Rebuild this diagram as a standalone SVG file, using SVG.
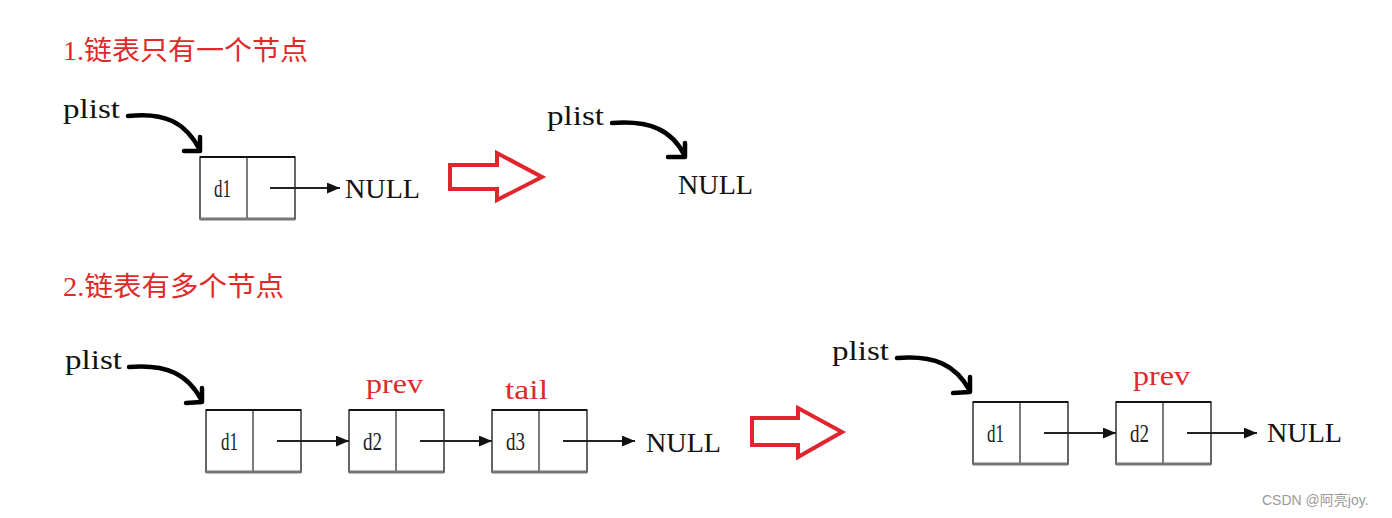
<svg xmlns="http://www.w3.org/2000/svg" width="1392" height="518" viewBox="0 0 1392 518">
<style>
.title{font-family:"Liberation Serif","Noto Sans CJK SC",serif;font-size:27px;fill:#e02a2a}
.lbl{font-family:"Liberation Serif",serif;font-size:28px;fill:#111}
.red{font-family:"Liberation Serif",serif;font-size:27px;fill:#e02a2a}
.d{font-family:"Liberation Serif",serif;font-size:25px;fill:#222}
.box{fill:#fff;stroke:#333;stroke-width:1.5}
.sh{stroke:#777;stroke-width:3;fill:none}
.curve{fill:none;stroke:#000;stroke-width:4.5;stroke-linecap:round;stroke-linejoin:round}
.link{stroke:#222;stroke-width:1.8;fill:none}
.big{fill:#fff;stroke:#e0262c;stroke-width:4;stroke-linejoin:miter}
</style>
<defs>
<marker id="ah" viewBox="0 0 12 10" refX="12" refY="5" markerWidth="13" markerHeight="11" markerUnits="userSpaceOnUse" orient="auto">
<path d="M0,0 L12,5 L0,10 z" fill="#111"/>
</marker>
<g id="nodebox">
<rect class="box" x="0" y="0" width="95" height="62"/>
<line x1="47" y1="0" x2="47" y2="62" stroke="#222" stroke-width="1.2"/>
<line class="sh" x1="0" y1="62" x2="95" y2="62"/>
<line x1="95" y1="0" x2="95" y2="62" stroke="#666" stroke-width="2"/>
<line x1="0" y1="0" x2="95" y2="0" stroke="#111" stroke-width="2"/>
</g>
</defs>
<rect width="1392" height="518" fill="#fff"/>

<text class="title" x="63" y="60" textLength="245" lengthAdjust="spacingAndGlyphs">1.链表只有一个节点</text>
<text class="title" x="63" y="296" textLength="221" lengthAdjust="spacingAndGlyphs">2.链表有多个节点</text>

<g id="s1-plist"><text class="lbl" x="63" y="118" textLength="57" lengthAdjust="spacingAndGlyphs">plist</text></g>
<g id="s1-node1"><use href="#nodebox" x="200" y="157"/><text class="d" x="214" y="197" textLength="17" lengthAdjust="spacingAndGlyphs">d1</text></g>
<g id="s1-null"><text class="lbl" x="345" y="198" textLength="75" lengthAdjust="spacingAndGlyphs">NULL</text></g>
<g id="s1-arrow"><path class="big" d="M450,165 L497,165 L497,153 L542,177 L497,200 L497,189 L450,189 Z"/></g>
<g id="s1-plist2"><text class="lbl" x="547" y="125" textLength="57" lengthAdjust="spacingAndGlyphs">plist</text></g>
<g id="s1-null2"><text class="lbl" x="678" y="194" textLength="75" lengthAdjust="spacingAndGlyphs">NULL</text></g>

<g id="s2-plist"><text class="lbl" x="65" y="369" textLength="57" lengthAdjust="spacingAndGlyphs">plist</text></g>
<g id="s2-node1"><use href="#nodebox" x="206" y="410"/><text class="d" x="221" y="450" textLength="17" lengthAdjust="spacingAndGlyphs">d1</text></g>
<g id="s2-node2"><use href="#nodebox" x="349" y="410"/><text class="d" x="363" y="450" textLength="19" lengthAdjust="spacingAndGlyphs">d2</text></g>
<g id="s2-node3"><use href="#nodebox" x="492" y="410"/><text class="d" x="506" y="450" textLength="19" lengthAdjust="spacingAndGlyphs">d3</text></g>
<g id="s2-prev"><text class="red" x="366" y="393" textLength="57" lengthAdjust="spacingAndGlyphs">prev</text></g>
<g id="s2-tail"><text class="red" x="505" y="399" textLength="43" lengthAdjust="spacingAndGlyphs">tail</text></g>
<g id="s2-null"><text class="lbl" x="646" y="452" textLength="75" lengthAdjust="spacingAndGlyphs">NULL</text></g>
<g id="s2-arrow"><path class="big" d="M752,418 L798,418 L798,408 L842,432 L798,457 L798,445 L752,445 Z"/></g>
<g id="s2-plist2"><text class="lbl" x="832" y="360" textLength="57" lengthAdjust="spacingAndGlyphs">plist</text></g>
<g id="s2-node1b"><use href="#nodebox" x="973" y="402"/><text class="d" x="987" y="442" textLength="17" lengthAdjust="spacingAndGlyphs">d1</text></g>
<g id="s2-node2b"><use href="#nodebox" x="1116" y="402"/><text class="d" x="1130" y="442" textLength="19" lengthAdjust="spacingAndGlyphs">d2</text></g>
<g id="s2-prev2"><text class="red" x="1133" y="385" textLength="57" lengthAdjust="spacingAndGlyphs">prev</text></g>
<g id="s2-null2"><text class="lbl" x="1267" y="442" textLength="75" lengthAdjust="spacingAndGlyphs">NULL</text></g>

<g id="connectors">
<path class="curve" d="M128,116 C165,112 185,122 200,150 M200,137 L200,151 L184,151"/>
<path class="curve" d="M612,123 C650,120 672,130 685,156 M685,143 L685,157 L668,157"/>
<path class="curve" d="M129,367 C167,364 188,374 202,401 M202,388 L202,402 L186,403"/>
<path class="curve" d="M897,358 C935,355 956,365 970,391 M970,377 L970,392 L953,393"/>
<line class="link" x1="270" y1="188" x2="340" y2="188" marker-end="url(#ah)"/>
<line class="link" x1="277" y1="441" x2="349" y2="441" marker-end="url(#ah)"/>
<line class="link" x1="420" y1="441" x2="492" y2="441" marker-end="url(#ah)"/>
<line class="link" x1="563" y1="441" x2="635" y2="441" marker-end="url(#ah)"/>
<line class="link" x1="1044" y1="433" x2="1116" y2="433" marker-end="url(#ah)"/>
<line class="link" x1="1187" y1="433" x2="1257" y2="433" marker-end="url(#ah)"/>
</g>

<text x="1262" y="505" font-family="Liberation Sans,'Noto Sans CJK SC',sans-serif" font-size="14" fill="#9a9a9a">CSDN @阿亮joy.</text>
</svg>
